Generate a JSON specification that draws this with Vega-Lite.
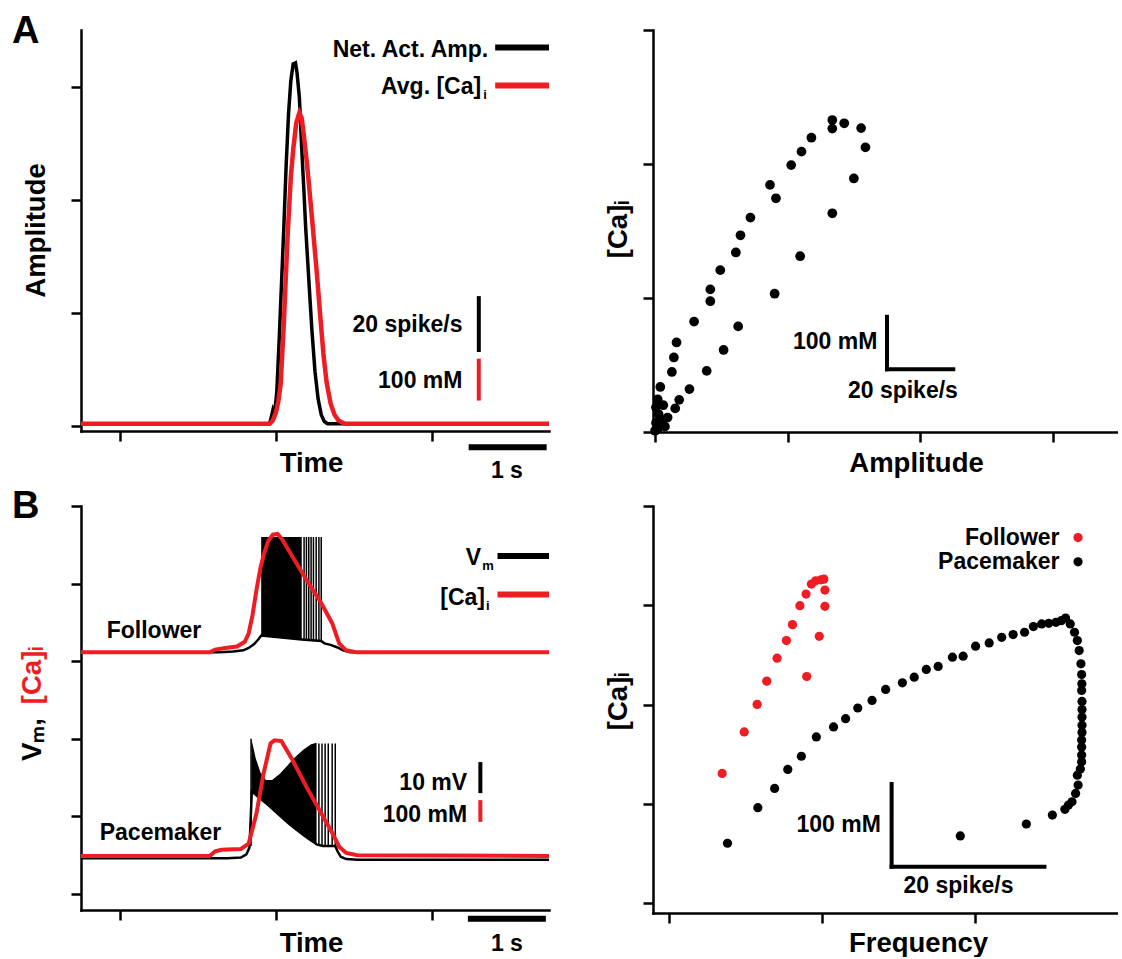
{
"$schema": "https://vega.github.io/schema/vega-lite/v6.json",
"background": "white",
"padding": {"left": 12, "top": 13, "right": 0, "bottom": 0},
"columns": 2,
"spacing": {"row": 74, "column": 104},
"bounds": "flush",
"config": {
  "view": {"stroke": null},
  "font": "Liberation Sans",
  "axis": {"domainColor": "black", "domainWidth": 2.5, "domainCap": "square", "tickColor": "black", "tickWidth": 2.5, "tickSize": 10, "labels": false, "grid": false, "titleFont": "Liberation Sans", "titleFontSize": 27.5, "titleFontWeight": "bold", "titleColor": "black"},
  "text": {"font": "Liberation Sans", "fontWeight": "bold", "fontSize": 23, "fill": "black"},
  "title": {"font": "Liberation Sans", "fontWeight": "bold", "fontSize": 38, "color": "black"}
},
"datasets": {
  "a_net": [{"x":-0.5,"y":0.02},{"x":1.91,"y":0.02},{"x":1.93,"y":0.05},{"x":1.96,"y":0.14},{"x":1.98,"y":0.10},{"x":2.01,"y":0.30},{"x":2.04,"y":0.75},{"x":2.07,"y":1.25},{"x":2.10,"y":1.75},{"x":2.13,"y":2.30},{"x":2.16,"y":2.75},{"x":2.19,"y":3.05},{"x":2.22,"y":3.20},{"x":2.25,"y":3.21},{"x":2.27,"y":3.12},{"x":2.30,"y":2.90},{"x":2.33,"y":2.45},{"x":2.36,"y":2.05},{"x":2.38,"y":1.76},{"x":2.42,"y":1.30},{"x":2.46,"y":0.85},{"x":2.50,"y":0.48},{"x":2.54,"y":0.24},{"x":2.58,"y":0.10},{"x":2.62,"y":0.04},{"x":2.66,"y":0.02},{"x":5.5,"y":0.02}],
  "a_ca": [{"x":-0.5,"y":0.02},{"x":1.92,"y":0.02},{"x":1.96,"y":0.05},{"x":2.00,"y":0.12},{"x":2.03,"y":0.22},{"x":2.06,"y":0.37},{"x":2.10,"y":0.90},{"x":2.15,"y":1.70},{"x":2.19,"y":2.20},{"x":2.22,"y":2.44},{"x":2.26,"y":2.68},{"x":2.30,"y":2.77},{"x":2.33,"y":2.72},{"x":2.36,"y":2.55},{"x":2.40,"y":2.30},{"x":2.46,"y":1.85},{"x":2.52,"y":1.38},{"x":2.57,"y":0.95},{"x":2.61,"y":0.62},{"x":2.65,"y":0.38},{"x":2.70,"y":0.20},{"x":2.75,"y":0.10},{"x":2.80,"y":0.05},{"x":2.88,"y":0.02},{"x":5.5,"y":0.02}],
  "a_vbar": [{"x":4.60,"y":0.654,"y2":1.148,"kind":"rate"},{"x":4.60,"y":0.225,"y2":0.595,"kind":"Ca"}],
  "a_hbar": [{"x":4.81,"x2":5.5,"y":3.346,"kind":"rate"},{"x":4.81,"x2":5.5,"y":3.01,"kind":"Ca"},{"x":4.47,"x2":5.47,"y":-0.188,"kind":"time"}],
  "a_txt_r": [{"x":4.72,"y":3.32,"label":"Net. Act. Amp."},{"x":4.63,"y":3.00,"label":"Avg. [Ca]"},{"x":4.39,"y":0.89,"label":"20 spike/s"},{"x":4.39,"y":0.40,"label":"100 mM"}],
  "a_txt_c": [{"x":4.96,"y":-0.40,"label":"1 s"}],
  "a_sub": [{"x":4.63,"y":3.00,"label":"i"}],
  "ar_pts": [{"x":0,"y":2},{"x":0.3,"y":17},{"x":1.1,"y":33},{"x":0.3,"y":46},{"x":0.8,"y":61},{"x":1.6,"y":84},{"x":0.5,"y":8},{"x":1.5,"y":22},{"x":2.5,"y":50},{"x":3,"y":10},{"x":5.1,"y":112},{"x":5.7,"y":139},{"x":6.5,"y":167},{"x":11.8,"y":206},{"x":16.7,"y":244},{"x":16.7,"y":266},{"x":19.7,"y":302},{"x":24.4,"y":335},{"x":25.8,"y":367},{"x":28.8,"y":400},{"x":34.7,"y":461},{"x":36.5,"y":436},{"x":41.1,"y":498},{"x":44.2,"y":523},{"x":47.2,"y":549},{"x":53.5,"y":582},{"x":53.5,"y":566},{"x":57.1,"y":576},{"x":62.2,"y":567},{"x":63.5,"y":531},{"x":60.0,"y":473},{"x":53.5,"y":408},{"x":43.8,"y":328},{"x":36.1,"y":258},{"x":25.1,"y":197},{"x":20.7,"y":153},{"x":15.6,"y":114},{"x":10.4,"y":80},{"x":7.3,"y":60},{"x":6.1,"y":44},{"x":3.8,"y":27},{"x":2.2,"y":15},{"x":0.8,"y":5}],
  "ar_vbar": [{"x":70,"y":117,"y2":215}],
  "ar_hbar": [{"x":70,"x2":90,"y":117}],
  "ar_txt_r": [{"x":67.1,"y":167,"label":"100 mM"}],
  "ar_txt_c": [{"x":74.8,"y":76.5,"label":"20 spike/s"}],
  "b_vm": [{"cell":"Follower","x":-0.5,"y":3.114},{"cell":"Follower","x":1.28,"y":3.114},{"cell":"Follower","x":1.45,"y":3.125},{"cell":"Follower","x":1.58,"y":3.14},{"cell":"Follower","x":1.65,"y":3.17},{"cell":"Follower","x":1.72,"y":3.22},{"cell":"Follower","x":1.78,"y":3.29},{"cell":"Follower","x":1.81,"y":3.33},{"cell":"Follower","x":2.33,"y":3.28},{"cell":"Follower","x":2.58,"y":3.26},{"cell":"Follower","x":2.62,"y":3.23},{"cell":"Follower","x":2.70,"y":3.21},{"cell":"Follower","x":2.78,"y":3.18},{"cell":"Follower","x":2.86,"y":3.14},{"cell":"Follower","x":2.95,"y":3.114},{"cell":"Follower","x":5.5,"y":3.114},
    {"cell":"Pacemaker","x":-0.5,"y":0.46},{"cell":"Pacemaker","x":1.38,"y":0.46},{"cell":"Pacemaker","x":1.55,"y":0.47},{"cell":"Pacemaker","x":1.62,"y":0.51},{"cell":"Pacemaker","x":1.66,"y":0.60},{"cell":"Pacemaker","x":1.69,"y":1.32},{"cell":"Pacemaker","x":2.52,"y":0.64},{"cell":"Pacemaker","x":2.60,"y":0.62},{"cell":"Pacemaker","x":2.76,"y":0.62},{"cell":"Pacemaker","x":2.79,"y":0.55},{"cell":"Pacemaker","x":2.83,"y":0.48},{"cell":"Pacemaker","x":2.90,"y":0.45},{"cell":"Pacemaker","x":3.05,"y":0.44},{"cell":"Pacemaker","x":5.5,"y":0.44}],
  "b_band": [{"cell":"Follower","x":1.81,"y":3.33,"y2":4.60},{"cell":"Follower","x":2.07,"y":3.30,"y2":4.60},{"cell":"Follower","x":2.33,"y":3.28,"y2":4.60},
    {"cell":"Pacemaker","x":1.685,"y":1.32,"y2":2.0},{"cell":"Pacemaker","x":1.70,"y":1.31,"y2":1.93},{"cell":"Pacemaker","x":1.74,"y":1.28,"y2":1.75},{"cell":"Pacemaker","x":1.80,"y":1.22,"y2":1.57},{"cell":"Pacemaker","x":1.87,"y":1.16,"y2":1.47},{"cell":"Pacemaker","x":1.95,"y":1.08,"y2":1.47},{"cell":"Pacemaker","x":2.05,"y":0.99,"y2":1.55},{"cell":"Pacemaker","x":2.15,"y":0.90,"y2":1.66},{"cell":"Pacemaker","x":2.25,"y":0.82,"y2":1.77},{"cell":"Pacemaker","x":2.35,"y":0.74,"y2":1.86},{"cell":"Pacemaker","x":2.45,"y":0.67,"y2":1.93},{"cell":"Pacemaker","x":2.52,"y":0.64,"y2":1.95}],
  "b_spk": [{"x":2.36,"y":3.27,"y2":4.60},{"x":2.39,"y":3.27,"y2":4.60},{"x":2.42,"y":3.27,"y2":4.60},{"x":2.45,"y":3.27,"y2":4.60},{"x":2.48,"y":3.27,"y2":4.60},{"x":2.515,"y":3.26,"y2":4.60},{"x":2.55,"y":3.25,"y2":4.60},{"x":2.58,"y":3.26,"y2":4.60},
    {"x":1.68,"y":0.62,"y2":2.0},{"x":2.55,"y":0.62,"y2":1.94},{"x":2.59,"y":0.62,"y2":1.94},{"x":2.63,"y":0.62,"y2":1.94},{"x":2.67,"y":0.62,"y2":1.94},{"x":2.72,"y":0.62,"y2":1.94},{"x":2.76,"y":0.62,"y2":1.94}],
  "b_ca": [{"cell":"Follower","x":-0.5,"y":3.114},{"cell":"Follower","x":1.15,"y":3.114},{"cell":"Follower","x":1.22,"y":3.15},{"cell":"Follower","x":1.35,"y":3.17},{"cell":"Follower","x":1.50,"y":3.19},{"cell":"Follower","x":1.60,"y":3.25},{"cell":"Follower","x":1.65,"y":3.36},{"cell":"Follower","x":1.70,"y":3.60},{"cell":"Follower","x":1.75,"y":3.92},{"cell":"Follower","x":1.80,"y":4.20},{"cell":"Follower","x":1.84,"y":4.36},{"cell":"Follower","x":1.90,"y":4.55},{"cell":"Follower","x":1.96,"y":4.63},{"cell":"Follower","x":2.02,"y":4.64},{"cell":"Follower","x":2.08,"y":4.57},{"cell":"Follower","x":2.21,"y":4.35},{"cell":"Follower","x":2.39,"y":4.05},{"cell":"Follower","x":2.58,"y":3.75},{"cell":"Follower","x":2.72,"y":3.49},{"cell":"Follower","x":2.81,"y":3.23},{"cell":"Follower","x":2.90,"y":3.14},{"cell":"Follower","x":3.04,"y":3.114},{"cell":"Follower","x":5.5,"y":3.114},
    {"cell":"Pacemaker","x":-0.5,"y":0.49},{"cell":"Pacemaker","x":1.15,"y":0.49},{"cell":"Pacemaker","x":1.22,"y":0.55},{"cell":"Pacemaker","x":1.30,"y":0.57},{"cell":"Pacemaker","x":1.55,"y":0.58},{"cell":"Pacemaker","x":1.65,"y":0.65},{"cell":"Pacemaker","x":1.75,"y":1.04},{"cell":"Pacemaker","x":1.84,"y":1.55},{"cell":"Pacemaker","x":1.93,"y":1.94},{"cell":"Pacemaker","x":1.98,"y":1.98},{"cell":"Pacemaker","x":2.07,"y":1.97},{"cell":"Pacemaker","x":2.21,"y":1.73},{"cell":"Pacemaker","x":2.39,"y":1.38},{"cell":"Pacemaker","x":2.58,"y":1.04},{"cell":"Pacemaker","x":2.72,"y":0.79},{"cell":"Pacemaker","x":2.81,"y":0.61},{"cell":"Pacemaker","x":2.90,"y":0.53},{"cell":"Pacemaker","x":3.04,"y":0.50},{"cell":"Pacemaker","x":5.5,"y":0.49}],
  "b_vbar": [{"x":4.62,"y":1.30,"y2":1.70,"kind":"Vm"},{"x":4.62,"y":0.93,"y2":1.21,"kind":"Ca"}],
  "b_hbar": [{"x":4.84,"x2":5.5,"y":4.356,"kind":"Vm"},{"x":4.84,"x2":5.5,"y":3.86,"kind":"Ca"},{"x":4.46,"x2":5.46,"y":-0.32,"kind":"time"}],
  "b_txt_r": [{"x":4.63,"y":4.33,"label":"V"},{"x":4.68,"y":3.81,"label":"[Ca]"},{"x":4.45,"y":1.43,"label":"10 mV"},{"x":4.45,"y":1.02,"label":"100 mM"}],
  "b_txt_l": [{"x":-0.17,"y":3.39,"label":"Follower"},{"x":-0.26,"y":0.78,"label":"Pacemaker"}],
  "b_txt_c": [{"x":4.96,"y":-0.64,"label":"1 s"}],
  "b_sub": [{"x":4.63,"y":4.33,"label":"m"},{"x":4.68,"y":3.81,"label":"i"}],
  "br_pts": [{"cell":"Follower","x":6.92,"y":156.7},{"cell":"Follower","x":9.81,"y":206.9},{"cell":"Follower","x":11.50,"y":240.2},{"cell":"Follower","x":12.76,"y":268.3},{"cell":"Follower","x":14.11,"y":296.0},{"cell":"Follower","x":15.33,"y":317.3},{"cell":"Follower","x":16.12,"y":336.6},{"cell":"Follower","x":17.10,"y":359.5},{"cell":"Follower","x":17.90,"y":373.6},{"cell":"Follower","x":18.60,"y":385.6},{"cell":"Follower","x":19.16,"y":389.6},{"cell":"Follower","x":19.86,"y":390.8},{"cell":"Follower","x":20.23,"y":391.6},{"cell":"Follower","x":20.37,"y":378.4},{"cell":"Follower","x":20.37,"y":358.7},{"cell":"Follower","x":19.63,"y":322.5},{"cell":"Follower","x":17.99,"y":273.9},
    {"cell":"Pacemaker","x":7.62,"y":72.3},{"cell":"Pacemaker","x":11.59,"y":115.3},{"cell":"Pacemaker","x":13.79,"y":138.6},{"cell":"Pacemaker","x":15.51,"y":161.5},{"cell":"Pacemaker","x":17.29,"y":177.5},{"cell":"Pacemaker","x":19.25,"y":200.8},{"cell":"Pacemaker","x":21.50,"y":212.9},{"cell":"Pacemaker","x":23.08,"y":222.9},{"cell":"Pacemaker","x":24.67,"y":235.8},{"cell":"Pacemaker","x":26.54,"y":245.0},{"cell":"Pacemaker","x":28.32,"y":258.3},{"cell":"Pacemaker","x":30.51,"y":266.3},{"cell":"Pacemaker","x":32.06,"y":273.1},{"cell":"Pacemaker","x":33.64,"y":282.4},{"cell":"Pacemaker","x":35.19,"y":286.0},{"cell":"Pacemaker","x":37.06,"y":297.2},{"cell":"Pacemaker","x":38.46,"y":298.4},{"cell":"Pacemaker","x":40.09,"y":310.5},{"cell":"Pacemaker","x":41.87,"y":314.5},{"cell":"Pacemaker","x":43.51,"y":321.3},{"cell":"Pacemaker","x":45.00,"y":324.6},{"cell":"Pacemaker","x":46.50,"y":327.4},{"cell":"Pacemaker","x":47.66,"y":334.2},{"cell":"Pacemaker","x":48.74,"y":337.4},{"cell":"Pacemaker","x":49.67,"y":338.2},{"cell":"Pacemaker","x":50.61,"y":339.4},{"cell":"Pacemaker","x":51.31,"y":341.4},{"cell":"Pacemaker","x":51.87,"y":344.6},{"cell":"Pacemaker","x":52.48,"y":337.4},{"cell":"Pacemaker","x":53.04,"y":327.4},{"cell":"Pacemaker","x":53.41,"y":317.3},{"cell":"Pacemaker","x":53.65,"y":305.3},{"cell":"Pacemaker","x":53.88,"y":289.2},{"cell":"Pacemaker","x":53.97,"y":276.3},{"cell":"Pacemaker","x":54.0,"y":265.0},{"cell":"Pacemaker","x":53.97,"y":257.1},{"cell":"Pacemaker","x":54.02,"y":243.8},{"cell":"Pacemaker","x":54.02,"y":234.0},{"cell":"Pacemaker","x":54.02,"y":224.9},{"cell":"Pacemaker","x":54.02,"y":215.0},{"cell":"Pacemaker","x":54.02,"y":206.1},{"cell":"Pacemaker","x":53.97,"y":197.0},{"cell":"Pacemaker","x":53.97,"y":188.8},{"cell":"Pacemaker","x":53.97,"y":179.0},{"cell":"Pacemaker","x":53.97,"y":170.7},{"cell":"Pacemaker","x":53.8,"y":162.0},{"cell":"Pacemaker","x":53.41,"y":154.6},{"cell":"Pacemaker","x":53.51,"y":142.6},{"cell":"Pacemaker","x":53.18,"y":132.5},{"cell":"Pacemaker","x":52.71,"y":122.5},{"cell":"Pacemaker","x":52.25,"y":118.5},{"cell":"Pacemaker","x":51.78,"y":113.3},{"cell":"Pacemaker","x":50.14,"y":106.4},{"cell":"Pacemaker","x":46.73,"y":95.6},{"cell":"Pacemaker","x":38.09,"y":81.1}],
  "br_leg": [{"cell":"Follower","x":53.5,"y":441.8},{"cell":"Pacemaker","x":53.5,"y":412.5}],
  "br_vbar": [{"x":29.1,"y":44,"y2":144}],
  "br_hbar": [{"x":29.1,"x2":49.1,"y":44}],
  "br_txt_r": [{"x":27.7,"y":94.4,"label":"100 mM"},{"x":51.08,"y":441.8,"label":"Follower"},{"x":51.08,"y":412.5,"label":"Pacemaker"}],
  "br_txt_c": [{"x":37.85,"y":20.1,"label":"20 spike/s"}]
},
"concat": [
  {
    "width": 468, "height": 401,
    "title": {"text": "A", "anchor": "start", "frame": "group", "dx": -69, "dy": 51, "offset": 0, "baseline": "alphabetic"},
    "encoding": {
      "x": {"field": "x", "type": "quantitative", "scale": {"domain": [-0.5, 5.5], "nice": false, "zero": false}, "axis": {"title": "Time", "values": [0, 2, 4], "titleX": 230, "titleY": 18}},
      "y": {"field": "y", "type": "quantitative", "scale": {"domain": [-0.044, 3.5], "nice": false, "zero": false}, "axis": {"title": "Amplitude", "values": [0, 1, 2, 3], "titleX": -31, "titleY": 200}}
    },
    "layer": [
      {"data": {"name": "a_net"}, "mark": {"type": "line", "color": "black", "strokeWidth": 3.5}},
      {"data": {"name": "a_ca"}, "mark": {"type": "line", "color": "#ee1d23", "strokeWidth": 4.5}},
      {"data": {"name": "a_vbar"}, "mark": {"type": "rule", "strokeWidth": 4}, "encoding": {"y2": {"field": "y2"}, "color": {"condition": {"test": "datum.kind === 'Ca'", "value": "#ee1d23"}, "value": "black"}}},
      {"data": {"name": "a_hbar"}, "mark": {"type": "rule", "strokeWidth": 6}, "encoding": {"x2": {"field": "x2"}, "color": {"condition": {"test": "datum.kind === 'Ca'", "value": "#ee1d23"}, "value": "black"}}},
      {"data": {"name": "a_txt_r"}, "mark": {"type": "text", "align": "right", "baseline": "middle"}, "encoding": {"text": {"field": "label", "type": "nominal"}}},
      {"data": {"name": "a_txt_c"}, "mark": {"type": "text", "align": "center", "baseline": "middle"}, "encoding": {"text": {"field": "label", "type": "nominal"}}},
      {"data": {"name": "a_sub"}, "mark": {"type": "text", "align": "left", "baseline": "middle", "fontSize": 13, "dx": 2, "dy": 8}, "encoding": {"text": {"field": "label", "type": "nominal"}}}
    ]
  },
  {
    "width": 464, "height": 402,
    "encoding": {
      "x": {"field": "x", "type": "quantitative", "scale": {"domain": [-0.6, 139.4], "nice": false, "zero": false}, "axis": {"title": "Amplitude", "values": [0, 40, 80, 120], "titleX": 263, "titleY": 17}},
      "y": {"field": "y", "type": "quantitative", "scale": {"domain": [0, 750], "nice": false, "zero": false}, "axis": {"title": "[Ca]ᵢ", "values": [0, 250, 500, 750], "titleX": -21, "titleY": 199}}
    },
    "layer": [
      {"data": {"name": "ar_pts"}, "mark": {"type": "circle", "color": "black", "size": 95, "opacity": 1}},
      {"data": {"name": "ar_vbar"}, "mark": {"type": "rule", "color": "black", "strokeWidth": 4, "strokeCap": "square"}, "encoding": {"y2": {"field": "y2"}}},
      {"data": {"name": "ar_hbar"}, "mark": {"type": "rule", "color": "black", "strokeWidth": 4, "strokeCap": "square"}, "encoding": {"x2": {"field": "x2"}}},
      {"data": {"name": "ar_txt_r"}, "mark": {"type": "text", "align": "right", "baseline": "middle"}, "encoding": {"text": {"field": "label", "type": "nominal"}}},
      {"data": {"name": "ar_txt_c"}, "mark": {"type": "text", "align": "center", "baseline": "middle"}, "encoding": {"text": {"field": "label", "type": "nominal"}}}
    ]
  },
  {
    "width": 468, "height": 404,
    "title": {"text": "B", "anchor": "start", "frame": "group", "dx": -69, "dy": 51, "offset": 0, "baseline": "alphabetic"},
    "resolve": {"scale": {"y": "independent"}},
    "layer": [
      {
        "encoding": {
          "x": {"field": "x", "type": "quantitative", "scale": {"domain": [-0.5, 5.5], "nice": false, "zero": false}, "axis": {"title": "Time", "values": [0, 2, 4], "titleX": 230, "titleY": 19}},
          "y": {"field": "y", "type": "quantitative", "scale": {"domain": [-0.206, 5], "nice": false, "zero": false}, "axis": {"title": "Vₘ,", "values": [0, 1, 2, 3, 4, 5], "titleX": -35, "titleY": 233}}
        },
        "layer": [
          {"data": {"name": "b_vm"}, "mark": {"type": "line", "color": "black", "strokeWidth": 2.5}, "encoding": {"detail": {"field": "cell", "type": "nominal"}}},
          {"data": {"name": "b_band"}, "mark": {"type": "area", "color": "black", "opacity": 1}, "encoding": {"y2": {"field": "y2"}, "detail": {"field": "cell", "type": "nominal"}}},
          {"data": {"name": "b_spk"}, "mark": {"type": "rule", "color": "black", "strokeWidth": 1.5}, "encoding": {"y2": {"field": "y2"}}},
          {"data": {"name": "b_vbar"}, "mark": {"type": "rule", "strokeWidth": 4}, "encoding": {"y2": {"field": "y2"}, "color": {"condition": {"test": "datum.kind === 'Ca'", "value": "#ee1d23"}, "value": "black"}}},
          {"data": {"name": "b_hbar"}, "mark": {"type": "rule", "strokeWidth": 6}, "encoding": {"x2": {"field": "x2"}, "color": {"condition": {"test": "datum.kind === 'Ca'", "value": "#ee1d23"}, "value": "black"}}},
          {"data": {"name": "b_txt_r"}, "mark": {"type": "text", "align": "right", "baseline": "middle"}, "encoding": {"text": {"field": "label", "type": "nominal"}}},
          {"data": {"name": "b_txt_l"}, "mark": {"type": "text", "align": "left", "baseline": "middle"}, "encoding": {"text": {"field": "label", "type": "nominal"}}},
          {"data": {"name": "b_txt_c"}, "mark": {"type": "text", "align": "center", "baseline": "middle"}, "encoding": {"text": {"field": "label", "type": "nominal"}}},
          {"data": {"name": "b_sub"}, "mark": {"type": "text", "align": "left", "baseline": "middle", "fontSize": 13, "dx": 1, "dy": 8}, "encoding": {"text": {"field": "label", "type": "nominal"}}}
        ]
      },
      {
        "data": {"name": "b_ca"},
        "mark": {"type": "line", "color": "#ee1d23", "strokeWidth": 4},
        "encoding": {
          "x": {"field": "x", "type": "quantitative", "scale": {"domain": [-0.5, 5.5], "nice": false, "zero": false}, "axis": {"title": "Time", "values": [0, 2, 4], "titleX": 230, "titleY": 19}},
          "y": {"field": "y", "type": "quantitative", "scale": {"domain": [-0.206, 5], "nice": false, "zero": false}, "axis": {"orient": "left", "title": "[Ca]ᵢ", "titleColor": "#ee1d23", "domain": false, "ticks": false, "labels": false, "titleX": -35, "titleY": 169}},
          "detail": {"field": "cell", "type": "nominal"}
        }
      }
    ]
  },
  {
    "width": 465, "height": 407,
    "encoding": {
      "x": {"field": "x", "type": "quantitative", "scale": {"domain": [-2.13, 58.73], "nice": false, "zero": false}, "axis": {"title": "Frequency", "values": [0, 20, 40], "titleX": 265, "titleY": 16}},
      "y": {"field": "y", "type": "quantitative", "scale": {"domain": [-12, 480], "nice": false, "zero": false}, "axis": {"title": "[Ca]ᵢ", "values": [0, 120, 240, 360, 480], "titleX": -21, "titleY": 195}}
    },
    "layer": [
      {"data": {"name": "br_pts"}, "mark": {"type": "circle", "size": 85, "opacity": 1}, "encoding": {"color": {"condition": {"test": "datum.cell === 'Follower'", "value": "#ee1d23"}, "value": "black"}}},
      {"data": {"name": "br_leg"}, "mark": {"type": "circle", "size": 85, "opacity": 1}, "encoding": {"color": {"condition": {"test": "datum.cell === 'Follower'", "value": "#ee1d23"}, "value": "black"}}},
      {"data": {"name": "br_vbar"}, "mark": {"type": "rule", "color": "black", "strokeWidth": 4, "strokeCap": "square"}, "encoding": {"y2": {"field": "y2"}}},
      {"data": {"name": "br_hbar"}, "mark": {"type": "rule", "color": "black", "strokeWidth": 4, "strokeCap": "square"}, "encoding": {"x2": {"field": "x2"}}},
      {"data": {"name": "br_txt_r"}, "mark": {"type": "text", "align": "right", "baseline": "middle"}, "encoding": {"text": {"field": "label", "type": "nominal"}}},
      {"data": {"name": "br_txt_c"}, "mark": {"type": "text", "align": "center", "baseline": "middle"}, "encoding": {"text": {"field": "label", "type": "nominal"}}}
    ]
  }
]
}
